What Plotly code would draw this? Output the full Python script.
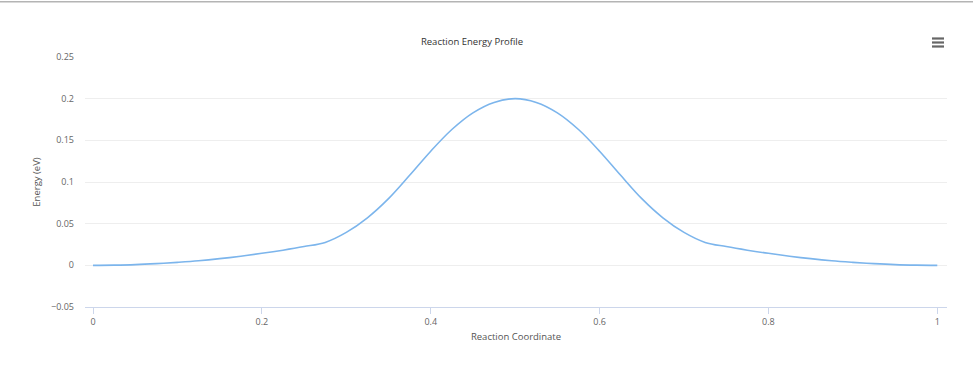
import plotly.graph_objects as go

# Reaction coordinate (x) and energy values (eV)
coord = [0.0, 0.025, 0.05, 0.075, 0.1, 0.125, 0.15, 0.175, 0.2, 0.225, 0.25, 0.275,
         0.3, 0.325, 0.35, 0.375, 0.4, 0.425, 0.45, 0.475, 0.5,
         0.525, 0.55, 0.575, 0.6, 0.625, 0.65, 0.675, 0.7, 0.725, 0.75, 0.775,
         0.8, 0.825, 0.85, 0.875, 0.9, 0.925, 0.95, 0.975, 1.0]
energy = [0.0, 0.0002, 0.0008, 0.002, 0.0036, 0.0055, 0.008, 0.011, 0.0144, 0.0182, 0.0225, 0.0275,
          0.0395, 0.057, 0.080, 0.108, 0.137, 0.163, 0.183, 0.1955, 0.200,
          0.1955, 0.183, 0.163, 0.137, 0.108, 0.080, 0.057, 0.0395, 0.0275, 0.0225, 0.0182,
          0.0144, 0.011, 0.008, 0.0055, 0.0036, 0.002, 0.0008, 0.0002, 0.0]

x_ticks = [0, 0.2, 0.4, 0.6, 0.8, 1]
x_ticktext = ["0", "0.2", "0.4", "0.6", "0.8", "1"]
y_ticks = [-0.05, 0, 0.05, 0.1, 0.15, 0.2, 0.25]
y_ticktext = ["\u22120.05", "0", "0.05", "0.1", "0.15", "0.2", "0.25"]

FONT = "Open Sans, Lato, sans-serif"

fig = go.Figure()
fig.add_trace(go.Scatter(
    x=coord, y=energy, mode="lines",
    line=dict(color="#7cb5ec", width=1.6, shape="spline", smoothing=1.0),
    showlegend=False, hoverinfo="x+y",
))

L, R, T, B = 85, 26, 57, 70
W, H = 973, 377
pw, ph = W - L - R, H - T - B

def px(xp):
    return (xp - L) / pw

def py(yp):
    return (H - B - yp) / ph

shapes = [
    # top border line of the page
    dict(type="line", xref="paper", yref="paper", x0=px(0), x1=px(W), y0=py(1.7), y1=py(1.7),
         line=dict(color="#b4b4b4", width=1.5)),
]
# hamburger menu icon
for yy in (38.5, 42.5, 46.5):
    shapes.append(dict(type="line", xref="paper", yref="paper", x0=px(932), x1=px(944),
                       y0=py(yy), y1=py(yy), line=dict(color="#666666", width=2.2)))

fig.update_layout(
    width=W, height=H,
    margin=dict(l=L, r=R, t=T, b=B),
    paper_bgcolor="white", plot_bgcolor="white",
    font=dict(family=FONT, size=9, color="#666666"),
    title=dict(text="Reaction Energy Profile", x=px(472), xref="paper", xanchor="center",
               y=1 - 42 / H, yanchor="middle", yref="container",
               font=dict(family=FONT, size=9.5, color="#333333")),
    xaxis=dict(range=[-0.0095, 1.0115], tickvals=x_ticks, ticktext=x_ticktext,
               showgrid=False, zeroline=False, showline=True, linecolor="#ccd6eb", linewidth=1,
               ticks="outside", ticklen=6, tickcolor="#ccd6eb", tickwidth=1,
               tickfont=dict(family=FONT, size=9, color="#666666"),
               title=dict(text="Reaction Coordinate", standoff=6,
                          font=dict(family=FONT, size=9.5, color="#555555"))),
    yaxis=dict(range=[-0.05, 0.25], tickvals=y_ticks, ticktext=y_ticktext,
               showgrid=True, gridcolor="#eeeeee", gridwidth=1, zeroline=False, showline=False,
               ticks="", ticklabelstandoff=10,
               tickfont=dict(family=FONT, size=9, color="#666666"),
               title=dict(text="Energy (eV)", standoff=8,
                          font=dict(family=FONT, size=9.5, color="#555555"))),
    shapes=shapes,
)

fig.write_html("out.html", config={"displayModeBar": False},
               post_script="document.body.style.margin='0';")
